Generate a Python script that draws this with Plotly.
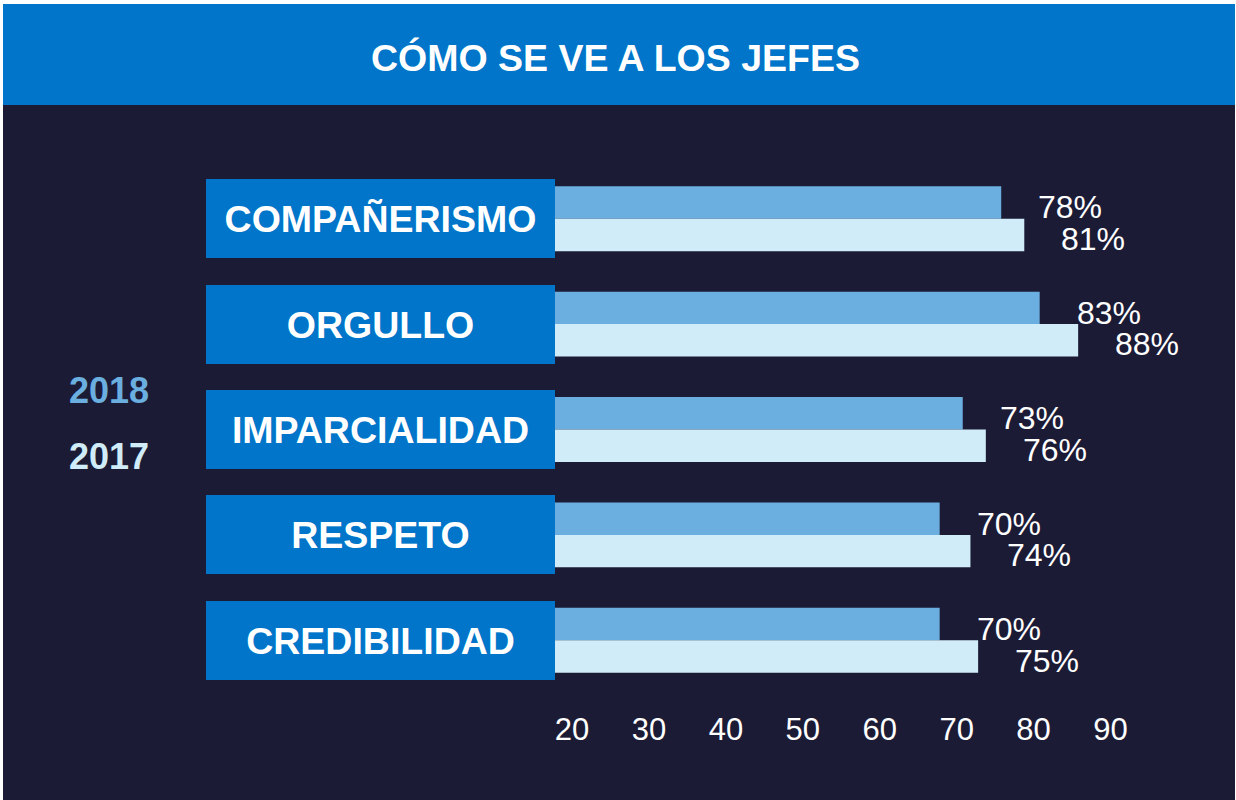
import plotly.graph_objects as go

categories = ["COMPAÑERISMO", "ORGULLO", "IMPARCIALIDAD", "RESPETO", "CREDIBILIDAD"]
values_2018 = [78, 83, 73, 70, 70]
values_2017 = [81, 88, 76, 74, 75]
tick_vals = [20, 30, 40, 50, 60, 70, 80, 90]
title_text = "CÓMO SE VE A LOS JEFES"

W, H = 1236, 800
L, R, T, B = 555, 104, 166, 107
PW = W - L - R
PH = H - T - B

BG = "#1C1B36"
BLUE = "#0075C9"
C2018 = "#6AAFE0"
C2017 = "#D0ECF8"
FONT = "Liberation Sans, Arial, sans-serif"


def px_x(px):
    return (px - L) / PW


def px_y(py):
    return (H - B - py) / PH


fig = go.Figure()
fig.add_trace(go.Bar(y=categories, x=values_2018, orientation="h", name="2018",
                     marker=dict(color=C2018, line=dict(width=0))))
fig.add_trace(go.Bar(y=categories, x=values_2017, orientation="h", name="2017",
                     marker=dict(color=C2017, line=dict(width=0))))

shapes = [
    dict(type="rect", xref="paper", yref="paper", x0=px_x(3), x1=px_x(1235),
         y0=px_y(105), y1=px_y(4), fillcolor=BLUE, line=dict(width=0), layer="below"),
    dict(type="rect", xref="paper", yref="paper", x0=px_x(0), x1=px_x(W),
         y0=px_y(4), y1=px_y(0), fillcolor="#FFFFFF", line=dict(width=0), layer="below"),
    dict(type="rect", xref="paper", yref="paper", x0=px_x(0), x1=px_x(3),
         y0=px_y(H), y1=px_y(0), fillcolor="#FFFFFF", line=dict(width=0), layer="below"),
    dict(type="rect", xref="paper", yref="paper", x0=px_x(1235), x1=px_x(W),
         y0=px_y(H), y1=px_y(0), fillcolor="#FFFFFF", line=dict(width=0), layer="below"),
]

annotations = [
    dict(text=f"<b>{title_text}</b>", xref="paper", yref="paper", x=px_x(615), y=px_y(58),
         xanchor="center", yanchor="middle", showarrow=False,
         font=dict(family=FONT, size=37.5, color="#FFFFFF")),
    dict(text="<b>2018</b>", xref="paper", yref="paper", x=px_x(109), y=px_y(390),
         xanchor="center", yanchor="middle", showarrow=False,
         font=dict(family=FONT, size=36, color=C2018)),
    dict(text="<b>2017</b>", xref="paper", yref="paper", x=px_x(109), y=px_y(456),
         xanchor="center", yanchor="middle", showarrow=False,
         font=dict(family=FONT, size=36, color=C2017)),
]

for cat in categories:
    annotations.append(dict(
        text=f"<b>{cat}</b>", xref="paper", yref="y", x=0, y=cat,
        xanchor="right", yanchor="middle", showarrow=False,
        width=349, height=79, bgcolor=BLUE, borderpad=0, borderwidth=0,
        align="center", valign="middle",
        font=dict(family=FONT, size=37.5, color="#FFFFFF")))

for cat, v in zip(categories, values_2018):
    annotations.append(dict(
        text=f"{v}%", xref="x", yref="y", x=v, y=cat, xanchor="left", yanchor="middle",
        xshift=35, yshift=16.25 - 5, showarrow=False,
        font=dict(family=FONT, size=32, color="#FFFFFF")))
for cat, v in zip(categories, values_2017):
    annotations.append(dict(
        text=f"{v}%", xref="x", yref="y", x=v, y=cat, xanchor="left", yanchor="middle",
        xshift=35, yshift=-16.25 - 4, showarrow=False,
        font=dict(family=FONT, size=32, color="#FFFFFF")))

fig.update_layout(
    width=W, height=H,
    margin=dict(l=L, r=R, t=T, b=B, pad=0),
    paper_bgcolor=BG, plot_bgcolor=BG,
    barmode="group", bargap=0.384, bargroupgap=0,
    showlegend=False,
    shapes=shapes, annotations=annotations,
    font=dict(family=FONT, color="#FFFFFF"),
    xaxis=dict(range=[20, 95], tickvals=tick_vals, showgrid=False, zeroline=False,
               showline=False, ticks="", ticklabelshift=17, ticklabelstandoff=15,
               tickfont=dict(family=FONT, size=31, color="#FFFFFF"), fixedrange=True),
    yaxis=dict(type="category", categoryorder="array", categoryarray=categories,
               range=[4.5, -0.5], showticklabels=False, showgrid=False,
               zeroline=False, showline=False, fixedrange=True),
)

fig.write_html(
    "out.html",
    config=dict(displayModeBar=False),
    post_script="document.body.style.margin='0';document.body.style.overflow='hidden';",
)
